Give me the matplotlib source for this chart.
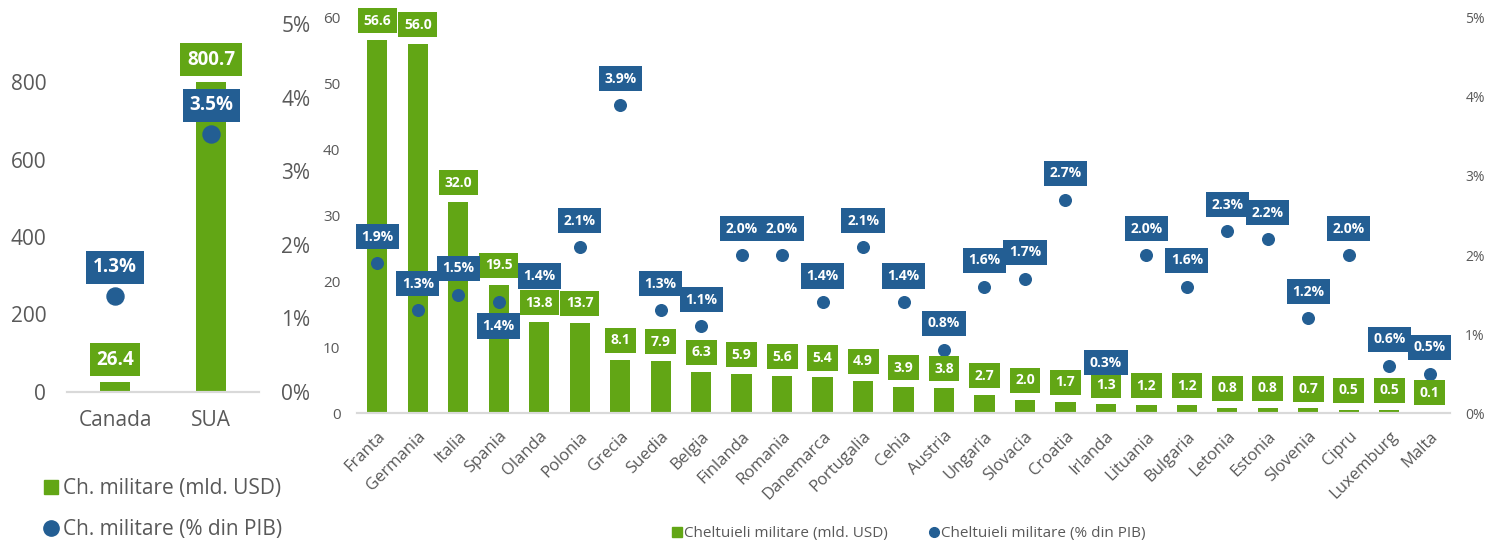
import numpy as np
import matplotlib
matplotlib.use('Agg')
import matplotlib.pyplot as plt
from matplotlib.lines import Line2D
from matplotlib.ticker import FuncFormatter

plt.rcParams['font.family'] = ['Open Sans', 'DejaVu Sans']

# date
tari_na = ['Canada', 'SUA']
usd_na = [26.4, 800.7]
pib_na = [1.3, 3.5]

tari_ue = ['Franta', 'Germania', 'Italia', 'Spania', 'Olanda', 'Polonia', 'Grecia',
           'Suedia', 'Belgia', 'Finlanda', 'Romania', 'Danemarca', 'Portugalia', 'Cehia',
           'Austria', 'Ungaria', 'Slovacia', 'Croatia', 'Irlanda', 'Lituania', 'Bulgaria',
           'Letonia', 'Estonia', 'Slovenia', 'Cipru', 'Luxemburg', 'Malta']
usd_ue = [56.6, 56.0, 32.0, 19.5, 13.8, 13.7, 8.1, 7.9, 6.3, 5.9, 5.6, 5.4, 4.9, 3.9,
          3.8, 2.7, 2.0, 1.7, 1.3, 1.2, 1.2, 0.8, 0.8, 0.7, 0.5, 0.5, 0.1]
pib_ue = [1.9, 1.3, 1.5, 1.4, 1.4, 2.1, 3.9, 1.3, 1.1, 2.0, 2.0, 1.4, 2.1, 1.4,
          0.8, 1.6, 1.7, 2.7, 0.3, 2.0, 1.6, 2.3, 2.2, 1.2, 2.0, 0.6, 0.5]

VERDE = '#62A615'
ALBASTRU = '#235E93'
GRI = '#595959'
pct = FuncFormatter(lambda v, p: '%d%%' % v)

fig = plt.figure(figsize=(14.89, 5.42), dpi=100)

# ---- panoul stanga (Canada, SUA)
ax1 = fig.add_axes([0.045, 0.2768, 0.129, 0.679])
ax1b = ax1.twinx()
x = np.arange(len(tari_na))
ax1.bar(x, usd_na, width=0.31, color=VERDE, zorder=2)
ax1b.scatter(x, pib_na, s=150, color=ALBASTRU, zorder=3)
ax1.set_xlim(-0.5, 1.5)
ax1.set_ylim(0, 950)
ax1b.set_ylim(0, 5)
ax1.set_yticks([0, 200, 400, 600, 800])
ax1b.set_yticks(range(6))
ax1b.yaxis.set_major_formatter(pct)
ax1.set_xticks(x)
ax1.set_xticklabels(tari_na)
ax1.tick_params(axis='y', length=0, pad=15, labelsize=15, labelcolor=GRI)
ax1.tick_params(axis='x', length=0, pad=13, labelsize=15, labelcolor=GRI)
ax1b.tick_params(axis='y', length=0, pad=16, labelsize=15, labelcolor=GRI)
for a in (ax1, ax1b):
    for s in ['top', 'left', 'right']:
        a.spines[s].set_visible(False)
    a.spines['bottom'].set_color('#D9D9D9')
    a.spines['bottom'].set_linewidth(1.5)
for i in range(len(tari_na)):
    ax1b.annotate('%.1f' % usd_na[i], (x[i], usd_na[i]), xycoords=ax1.transData,
                  xytext=(0, 16), textcoords='offset points', ha='center', va='center',
                  color='white', fontsize=13.5, fontweight='bold', zorder=5,
                  bbox=dict(boxstyle='square,pad=0.35', fc=VERDE, ec='none'))
    ax1b.annotate('%.1f%%' % pib_na[i], (x[i], pib_na[i]),
                  xytext=(0, 21), textcoords='offset points', ha='center', va='center',
                  color='white', fontsize=13.5, fontweight='bold', zorder=5,
                  bbox=dict(boxstyle='square,pad=0.35', fc=ALBASTRU, ec='none'))

leg1 = [Line2D([], [], marker='s', ls='none', color=VERDE, markersize=10),
        Line2D([], [], marker='o', ls='none', color=ALBASTRU, markersize=11)]
fig.legend(leg1, ['Ch. militare (mld. USD)', 'Ch. militare (% din PIB)'],
           loc='upper left', bbox_to_anchor=(0.028, 0.118), frameon=False,
           fontsize=15, labelcolor=GRI, handletextpad=0.1, handlelength=0.9,
           labelspacing=0.95, borderpad=0, borderaxespad=0)

# ---- panoul dreapta (tari UE)
ax2 = fig.add_axes([0.2398, 0.238, 0.734, 0.7288])
ax2b = ax2.twinx()
x2 = np.arange(len(tari_ue))
ax2.bar(x2, usd_ue, width=0.5, color=VERDE, zorder=2)
ax2b.scatter(x2, pib_ue, s=70, color=ALBASTRU, zorder=3)
ax2.set_xlim(-0.5, len(tari_ue) - 0.5)
ax2.set_ylim(0, 60)
ax2b.set_ylim(0, 5)
ax2.set_yticks(range(0, 61, 10))
ax2b.set_yticks(range(6))
ax2b.yaxis.set_major_formatter(pct)
ax2.set_xticks(x2)
ax2.set_xticklabels(tari_ue, rotation=45, ha='right', rotation_mode='anchor')
ax2.tick_params(axis='y', length=0, pad=12, labelsize=11, labelcolor=GRI)
ax2.tick_params(axis='x', length=0, pad=11, labelsize=12, labelcolor=GRI)
ax2b.tick_params(axis='y', length=0, pad=11, labelsize=10, labelcolor=GRI)
for a in (ax2, ax2b):
    for s in ['top', 'left', 'right']:
        a.spines[s].set_visible(False)
    a.spines['bottom'].set_color('#D9D9D9')
    a.spines['bottom'].set_linewidth(1.5)
for i in range(len(tari_ue)):
    ax2b.annotate('%.1f' % usd_ue[i], (x2[i], usd_ue[i]), xycoords=ax2.transData,
                  xytext=(0, 14), textcoords='offset points', ha='center', va='center',
                  color='white', fontsize=10, fontweight='bold', zorder=5,
                  bbox=dict(boxstyle='square,pad=0.4', fc=VERDE, ec='none'))
    dy = -17 if tari_ue[i] == 'Spania' else 19
    ax2b.annotate('%.1f%%' % pib_ue[i], (x2[i], pib_ue[i]),
                  xytext=(0, dy), textcoords='offset points', ha='center', va='center',
                  color='white', fontsize=10, fontweight='bold', zorder=6,
                  bbox=dict(boxstyle='square,pad=0.4', fc=ALBASTRU, ec='none'))

leg2 = [Line2D([], [], marker='s', ls='none', color=VERDE, markersize=7),
        Line2D([], [], marker='o', ls='none', color=ALBASTRU, markersize=7)]
fig.legend(leg2, ['Cheltuieli militare (mld. USD)', 'Cheltuieli militare (% din PIB)'],
           loc='center', bbox_to_anchor=(0.61, 0.015), ncol=2, frameon=False,
           fontsize=11, labelcolor=GRI, handletextpad=0.05, handlelength=0.8,
           columnspacing=2.6, borderpad=0, borderaxespad=0)

plt.savefig('out.png', dpi=100)
